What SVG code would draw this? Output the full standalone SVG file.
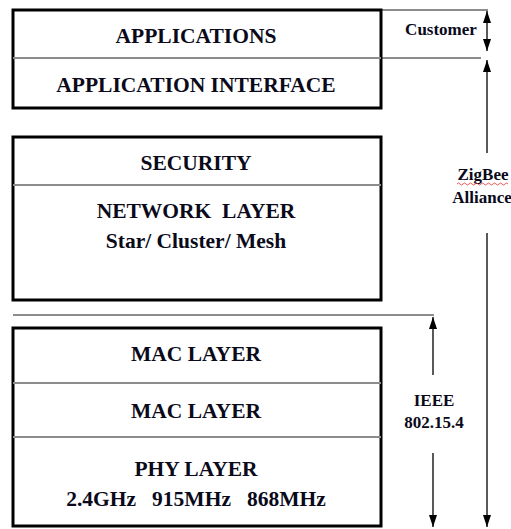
<svg xmlns="http://www.w3.org/2000/svg" width="511" height="529" viewBox="0 0 511 529" font-family="Liberation Serif, Times New Roman, serif">
<style>
.box{fill:#fff;stroke:#000;stroke-width:3}
.div{stroke:#8c8c8c;stroke-width:2;fill:none}
.t{font-weight:700;font-size:21.5px;fill:#0a0a1a;text-anchor:middle}
.s{font-weight:700;font-size:17px;fill:#0a0a1a;text-anchor:middle}
.arr{stroke:#000;stroke-width:1.3;fill:none}
</style>
<defs>
<marker id="ah" viewBox="0 0 12 8" refX="12" refY="4" markerWidth="12" markerHeight="8" markerUnits="userSpaceOnUse" orient="auto-start-reverse">
<path d="M0,0 L12,4 L0,8 z" fill="#000"/>
</marker>
</defs>
<rect width="511" height="529" fill="#fff"/>
<g id="guides">
<line class="div" x1="381" y1="10" x2="488" y2="10"/>
<line class="div" x1="13" y1="58" x2="481" y2="58"/>
<line class="div" x1="13" y1="315" x2="434" y2="315"/>
</g>
<g id="node-app">
<rect class="box" x="13" y="10" width="368" height="98"/>
<line class="div" x1="13" y1="58" x2="381" y2="58"/>
<text class="t" x="196" y="43">APPLICATIONS</text>
<text class="t" x="196" y="92">APPLICATION INTERFACE</text>
</g>
<g id="node-network">
<rect class="box" x="13" y="137" width="368" height="163"/>
<line class="div" x1="13" y1="185" x2="381" y2="185"/>
<text class="t" x="196" y="170">SECURITY</text>
<text class="t" x="196" y="218" xml:space="preserve">NETWORK  LAYER</text>
<text class="t" x="196" y="248">Star/ Cluster/ Mesh</text>
</g>
<g id="node-ieee">
<rect class="box" x="13" y="328" width="368" height="198"/>
<line class="div" x1="13" y1="383" x2="381" y2="383"/>
<line class="div" x1="13" y1="437" x2="381" y2="437"/>
<text class="t" x="196" y="361">MAC LAYER</text>
<text class="t" x="196" y="418">MAC LAYER</text>
<text class="t" x="196" y="476">PHY LAYER</text>
<text class="t" x="196" y="506" xml:space="preserve">2.4GHz   915MHz   868MHz</text>
</g>
<g id="labels">
<text class="s" x="441" y="35">Customer</text>
<text class="s" x="483" y="180">ZigBee</text>
<path d="M457,184 q1.5,-2 3,0 t3,0 t3,0 t3,0 t3,0 t3,0 t3,0 t3,0 t3,0 t3,0 t3,0 t3,0 t3,0 t3,0 t3,0 t3,0 t3,0" stroke="#e03030" stroke-width="0.8" fill="none"/>
<text class="s" x="482" y="203">Alliance</text>
<text class="s" x="434" y="406">IEEE</text>
<text class="s" x="434" y="428">802.15.4</text>
</g>
<g id="connectors">
<line class="arr" x1="487" y1="11" x2="487" y2="51" marker-start="url(#ah)" marker-end="url(#ah)"/>
<line class="arr" x1="487" y1="60" x2="487" y2="153" marker-start="url(#ah)"/>
<line class="arr" x1="487" y1="233" x2="487" y2="527" marker-end="url(#ah)"/>
<line class="arr" x1="433" y1="317" x2="433" y2="375" marker-start="url(#ah)"/>
<line class="arr" x1="433" y1="453" x2="433" y2="527" marker-end="url(#ah)"/>
</g>
</svg>
